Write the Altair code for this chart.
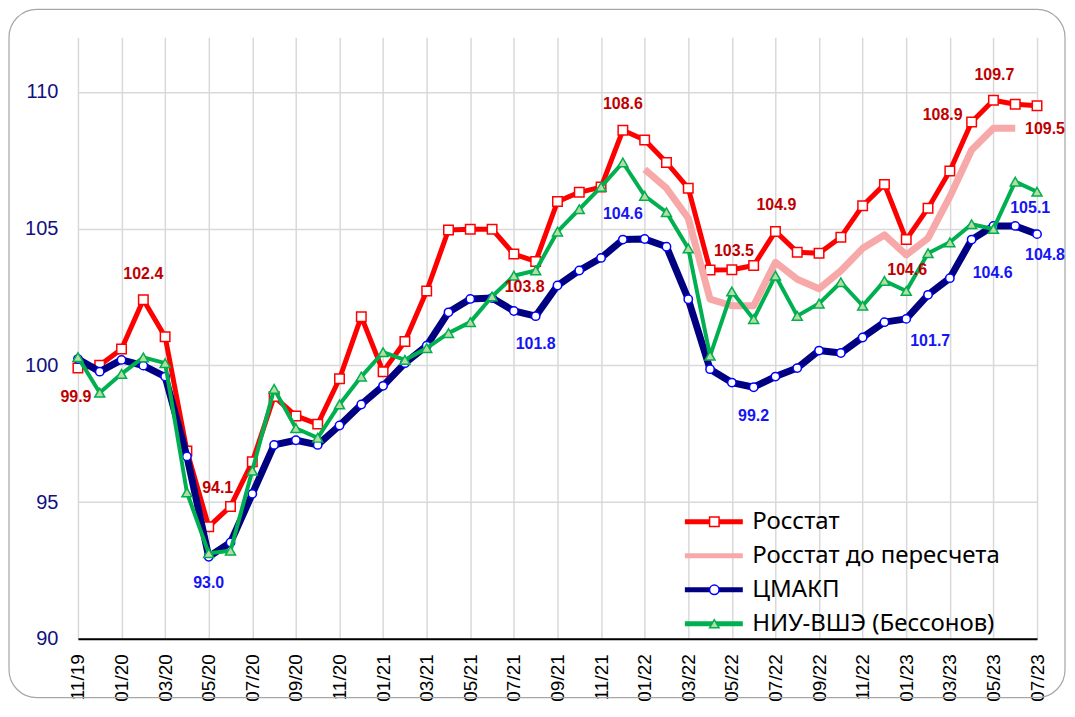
import altair as alt
import pandas as pd

months = ["11/19", "12/19", "01/20", "02/20", "03/20", "04/20", "05/20", "06/20", "07/20",
          "08/20", "09/20", "10/20", "11/20", "12/20", "01/21", "02/21", "03/21", "04/21",
          "05/21", "06/21", "07/21", "08/21", "09/21", "10/21", "11/21", "12/21", "01/22",
          "02/22", "03/22", "04/22", "05/22", "06/22", "07/22", "08/22", "09/22", "10/22",
          "11/22", "12/22", "01/23", "02/23", "03/23", "04/23", "05/23", "06/23", "07/23"]

rosstat = [99.9, 100.0, 100.6, 102.4, 101.05, 96.87, 94.1, 94.84, 96.47, 98.86, 98.15, 97.85,
           99.51, 101.78, 99.77, 100.87, 102.72, 104.95, 104.98, 104.98, 104.07, 103.8, 105.99,
           106.33, 106.52, 108.6, 108.24, 107.42, 106.48, 103.49, 103.5, 103.65, 104.9, 104.14,
           104.1, 104.69, 105.84, 106.62, 104.6, 105.75, 107.11, 108.9, 109.7, 109.55, 109.5]

rosstat_old = [None] * 26 + [107.17, 106.48, 105.38, 102.42, 102.18, 102.18, 103.77, 103.15,
                             102.8, 103.46, 104.28, 104.77, 104.04, 104.65, 106.17, 107.88,
                             108.67, 108.67] + [None]

cmakp = [100.23, 99.77, 100.2, 99.99, 99.59, 96.67, 93.0, 93.52, 95.3, 97.09, 97.26, 97.09,
         97.8, 98.57, 99.25, 100.08, 100.72, 101.94, 102.43, 102.46, 101.99, 101.8, 102.92,
         103.47, 103.93, 104.6, 104.62, 104.34, 102.42, 99.86, 99.37, 99.2, 99.59, 99.9,
         100.54, 100.45, 101.02, 101.58, 101.7, 102.58, 103.19, 104.6, 105.1, 105.1, 104.8]

hse = [100.3, 99.0, 99.69, 100.29, 100.08, 95.35, 93.13, 93.22, 96.15, 99.14, 97.7, 97.35,
       98.57, 99.59, 100.48, 100.2, 100.63, 101.18, 101.58, 102.52, 103.28, 103.47, 104.89,
       105.71, 106.53, 107.42, 106.2, 105.6, 104.28, 100.35, 102.7, 101.69, 103.28, 101.81,
       102.26, 103.04, 102.18, 103.09, 102.72, 104.1, 104.5, 105.16, 104.99, 106.72, 106.35]

series_names = ["Росстат", "Росстат до пересчета", "ЦМАКП", "НИУ-ВШЭ (Бессонов)"]
series_values = [rosstat, rosstat_old, cmakp, hse]

# annotated points: month indices of labelled values
red_labels = [0, 3, 6, 21, 25, 30, 32, 38, 41, 42, 44]
blue_labels = [6, 21, 25, 31, 38, 41, 43, 44]

# ---- styles ----
line_colors = ["#FF0000", "#F7A9A9", "#000080", "#00B050"]
line_widths = [5, 7, 7, 4]
red_offsets = [(-2, 29), (0, -26), (9, -39), (-11, 26), (0, -26), (2, -19), (1, -26),
               (1, 30), (-29, -7), (1, -25), (8, 23)]
blue_offsets = [(0, 26), (0, 28), (0, -26), (0, 29), (24, 22), (21, 33), (15, -18), (8, 21)]

rows = []
for name, vals in zip(series_names, series_values):
    for m, v in zip(months, vals):
        if v is not None:
            rows.append({"month": m, "value": v, "series": name})
df = pd.DataFrame(rows)

W, H = 960, 602
x_enc = alt.X("month:O", scale=alt.Scale(domain=months, type="point", padding=0),
              axis=alt.Axis(values=months[::2], title=None, labelAngle=-90, labelAlign="right",
                            labelBaseline="middle", labelFont="Liberation Sans",
                            labelFontSize=19, labelColor="#000000", labelPadding=15,
                            ticks=False, domain=True, domainColor="#000000", domainWidth=2,
                            grid=True, gridColor="#D9D9D9", gridWidth=1.5))
y_enc = alt.Y("value:Q", scale=alt.Scale(domain=[90, 112], nice=False, zero=False),
              axis=alt.Axis(values=[90, 95, 100, 105, 110], title=None, labelFont="Liberation Sans",
                            labelFontSize=20, labelColor="#10107F", labelPadding=20,
                            ticks=False, domain=False, grid=True, gridColor="#D9D9D9",
                            gridWidth=1.5))

line_legend = alt.Legend(orient="none", legendX=605, legendY=474, title=None,
                         symbolType="stroke", symbolSize=3364, symbolStrokeWidth=5,
                         clipHeight=22, rowPadding=10,
                         labelFont="Noto Sans", labelFontSize=24, labelColor="#000000",
                         labelLimit=400, labelOffset=7, padding=0)
color_enc = alt.Color("series:N", scale=alt.Scale(domain=series_names, range=line_colors),
                      legend=line_legend)

# marker scales (domain order permuted so this legend stays separate from the line legend)
pt_domain = ["ЦМАКП", "НИУ-ВШЭ (Бессонов)", "Росстат", "Росстат до пересчета"]
pt_shapes = ["circle", "triangle-up", "square", "circle"]
pt_strokes = ["#0000FF", "#00B050", "#FF0000", "transparent"]
pt_fills = ["#FFFFFF", "#B5DCA2", "#FFFFFF", "transparent"]
pt_legend = alt.Legend(orient="none", legendX=605, legendY=474, title=None,
                       values=series_names, symbolSize=90, symbolStrokeWidth=1.5,
                       clipHeight=22, rowPadding=10, labelFont="Noto Sans", labelFontSize=24,
                       labelOpacity=0, labelExpr="''", labelLimit=400, symbolOffset=20,
                       padding=0)
shape_enc = alt.Shape("series:N", scale=alt.Scale(domain=pt_domain, range=pt_shapes),
                      legend=pt_legend)
stroke_enc = alt.Stroke("series:N", scale=alt.Scale(domain=pt_domain, range=pt_strokes),
                        legend=pt_legend)
fill_enc = alt.Fill("series:N", scale=alt.Scale(domain=pt_domain, range=pt_fills),
                    legend=pt_legend)
pt_sizes = {"Росстат": 90, "ЦМАКП": 70, "НИУ-ВШЭ (Бессонов)": 100}

base = alt.Chart(df)
frame = alt.Chart(pd.DataFrame({"k": [0]})).mark_rect(
    cornerRadius=28, fill="#FFFFFF", fillOpacity=0, stroke="#A6A6A6", strokeWidth=1.2
).encode(x=alt.value(-69), x2=alt.value(988), y=alt.value(-28), y2=alt.value(661))

layers = [frame]
for name, lw in zip(series_names, line_widths):
    sub = base.transform_filter(alt.datum.series == name)
    layers.append(sub.mark_line(strokeJoin="round", strokeWidth=lw).encode(
        x=x_enc, y=y_enc, color=color_enc))
    if name in pt_sizes:
        layers.append(sub.mark_point(filled=True, size=pt_sizes[name], strokeWidth=1.5,
                                     opacity=1).encode(
            x=x_enc, y=y_enc, shape=shape_enc, stroke=stroke_enc, fill=fill_enc))

for idx, (dx, dy) in zip(red_labels, red_offsets):
    layers.append(base.transform_filter(
        (alt.datum.series == series_names[0]) & (alt.datum.month == months[idx])
    ).mark_text(dx=dx, dy=dy, font="Liberation Sans", fontSize=16, fontWeight="bold",
                color="#C00000", align="center", baseline="middle").encode(
        x=x_enc, y=y_enc, text=alt.Text("value:Q", format=".1f")))

for idx, (dx, dy) in zip(blue_labels, blue_offsets):
    layers.append(base.transform_filter(
        (alt.datum.series == series_names[2]) & (alt.datum.month == months[idx])
    ).mark_text(dx=dx, dy=dy, font="Liberation Sans", fontSize=16, fontWeight="bold",
                color="#1515F5", align="center", baseline="middle").encode(
        x=x_enc, y=y_enc, text=alt.Text("value:Q", format=".1f")))

chart = alt.layer(*layers).properties(
    width=W, height=H,
    autosize=alt.AutoSizeParams(type="none"),
    padding={"left": 70, "top": 29, "right": 30, "bottom": 63},
    background="#FFFFFF",
).configure_view(strokeWidth=0)

chart.save("out.html", embed_options={"renderer": "svg", "actions": False})
